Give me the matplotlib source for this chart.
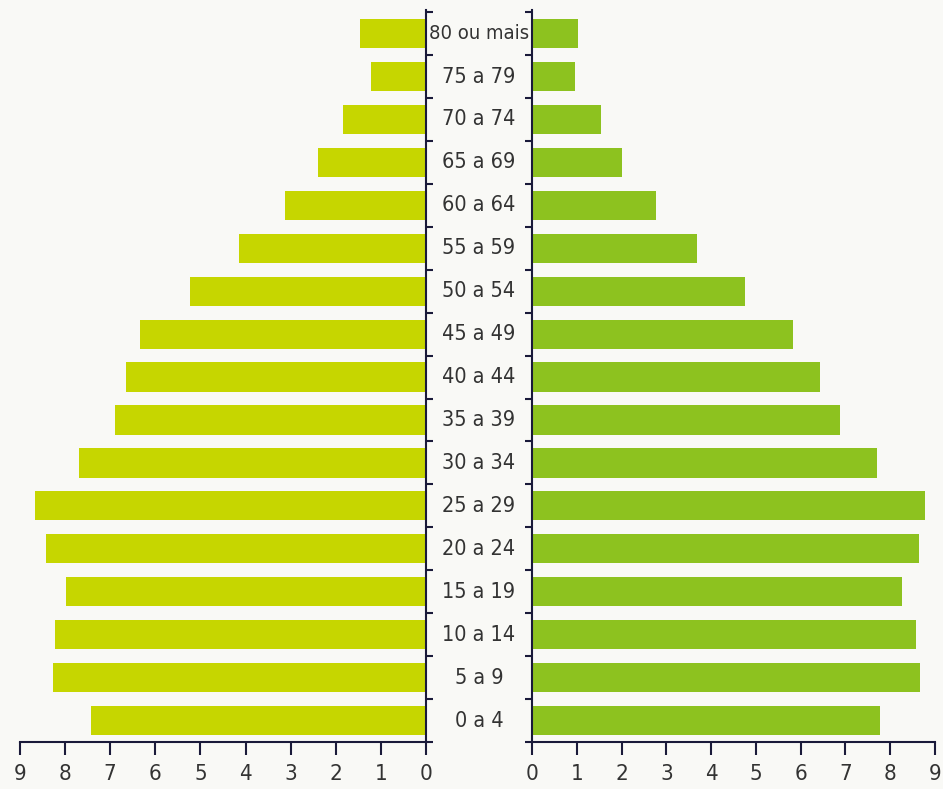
import numpy as np
import matplotlib.pyplot as plt

# Faixas etárias (de baixo para cima)
faixas = ['0 a 4', '5 a 9', '10 a 14', '15 a 19', '20 a 24', '25 a 29',
          '30 a 34', '35 a 39', '40 a 44', '45 a 49', '50 a 54', '55 a 59',
          '60 a 64', '65 a 69', '70 a 74', '75 a 79', '80 ou mais']

# Percentagens
esquerda = [7.42, 8.26, 8.22, 7.97, 8.42, 8.66, 7.70, 6.90, 6.66, 6.33,
            5.23, 4.14, 3.12, 2.40, 1.85, 1.22, 1.47]
direita = [7.77, 8.66, 8.57, 8.26, 8.64, 8.77, 7.70, 6.88, 6.43, 5.83,
           4.75, 3.68, 2.77, 2.00, 1.54, 0.96, 1.03]

ticks_x = list(range(10))

cor_esq = '#c6d600'
cor_dir = '#8dc21f'
fundo = '#f9f9f6'
texto = '#333333'
eixo = '#1a1a3a'

plt.rcParams['font.family'] = ['DejaVu Sans']
plt.rcParams['font.stretch'] = 'condensed'

fig = plt.figure(figsize=(9.43, 7.89), dpi=100, facecolor=fundo)
ax_e = fig.add_axes([20 / 943, 1 - 742 / 789, (426 - 20) / 943, 732 / 789])
ax_d = fig.add_axes([532 / 943, 1 - 742 / 789, (935 - 532) / 943, 732 / 789])

y = np.arange(len(faixas))
ax_e.barh(y, esquerda, height=0.68, color=cor_esq)
ax_d.barh(y, direita, height=0.68, color=cor_dir)

fronteiras = np.arange(len(faixas) + 1) - 0.5

for ax in (ax_e, ax_d):
    ax.set_facecolor(fundo)
    ax.set_xlim(0, 9)
    ax.set_ylim(-0.5, len(faixas) - 0.45)
    ax.set_xticks(ticks_x)
    ax.set_xticklabels([str(t) for t in ticks_x], fontsize=16, color=texto)
    ax.set_yticks(fronteiras)
    ax.set_yticklabels([])
    ax.tick_params(axis='x', direction='out', length=9, width=1.5, color=eixo, pad=7)
    ax.tick_params(axis='y', direction='out', length=5, width=1.5, color=eixo)
    ax.spines['top'].set_visible(False)
    for s in ('left', 'right', 'bottom'):
        ax.spines[s].set_color(eixo)
        ax.spines[s].set_linewidth(1.5)

ax_e.invert_xaxis()
ax_e.spines['left'].set_visible(False)
ax_e.yaxis.set_ticks_position('right')
ax_d.spines['right'].set_visible(False)
ax_d.yaxis.set_ticks_position('left')

# Rótulos centrais das faixas etárias
for i, f in enumerate(faixas):
    yy = ax_e.transData.transform((0, i))[1]
    tam = 14.5 if f == '80 ou mais' else 15.5
    fig.text(479 / 943, yy / fig.dpi / 7.89, f, ha='center', va='center',
             fontsize=tam, color=texto, fontstretch='condensed')

fig.savefig('out.png', dpi=100, facecolor=fundo)
